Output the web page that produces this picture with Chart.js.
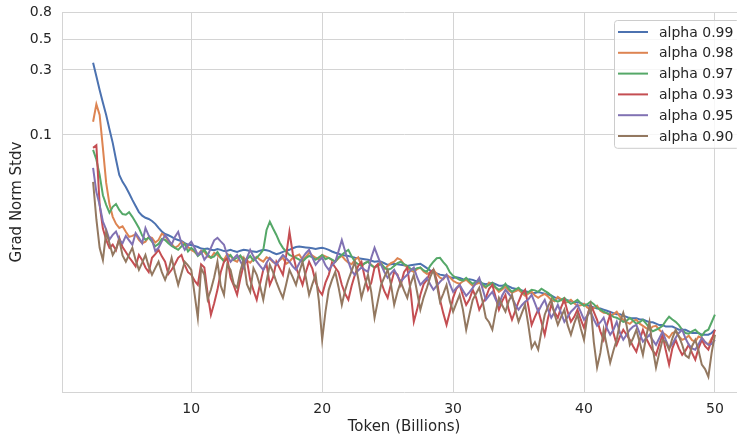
<!DOCTYPE html>
<html>
<head>
<meta charset="utf-8">
<script src="https://cdn.jsdelivr.net/npm/chart.js@4.4.1/dist/chart.umd.min.js"></script>
<style>
  html, body { margin: 0; padding: 0; background: #ffffff; width: 737px; height: 437px; overflow: hidden; }
  canvas { display: block; }
</style>
</head>
<body>
<canvas id="c" width="760" height="437"></canvas>
<script>
// ---- data: token positions (billions) ----
const tokens = [2.5,3,3.5,4,4.5,5,5.5,6,6.5,7,7.5,8,8.5,9,9.5,10,
  10.5,11,11.5,12,12.5,13,13.5,14,14.5,15,
  15.5,16,16.5,17,17.5,18,18.5,19,19.5,20,
  20.5,21,21.5,22,22.5,23,23.5,24,24.5,25,
  25.5,26,26.5,27,27.5,28,28.5,29,29.5,30,
  30.5,31,31.5,32,32.5,33,33.5,34,34.5,35,
  35.5,36,36.5,37,37.5,38,38.5,39,39.5,40,
  40.5,41,41.5,42,42.5,43,43.5,44,44.5,45,
  45.5,46,46.5,47,47.5,48,48.5,49,49.5,50];
const tokensMid = [2.75,3.25,3.75,4.25,4.75,5.25,5.75,6.25,6.75,7.25,7.75,8.25,8.75,9.25,9.75,
  10.25,10.75,11.25,11.75,12.25,12.75,13.25,13.75,14.25,14.75,
  15.25,15.75,16.25,16.75,17.25,17.75,18.25,18.75,19.25,19.75,
  20.25,20.75,21.25,21.75,22.25,22.75,23.25,23.75,24.25,24.75,
  25.25,25.75,26.25,26.75,27.25,27.75,28.25,28.75,29.25,29.75,
  30.25,30.75,31.25,31.75,32.25,32.75,33.25,33.75,34.25,34.75,
  35.25,35.75,36.25,36.75,37.25,37.75,38.25,38.75,39.25,39.75,
  40.25,40.75,41.25,41.75,42.25,42.75,43.25,43.75,44.25,44.75,
  45.25,45.75,46.25,46.75,47.25,47.75,48.25,48.75,49.25,49.75];

// ---- alpha 0.99 ----
const alpha099 = [0.339,0.214,0.140,0.0874,0.0508,0.0414,0.0333,0.0271,0.0246,0.0233,0.0207,0.0187,0.0178,0.0169,0.0160,0.0155,
  0.0150,0.0145,0.0143,0.0145,0.0140,0.0143,0.0138,0.0143,0.0140,0.0138,
  0.0143,0.0140,0.0133,0.0138,0.0143,0.0150,0.0150,0.0148,0.0145,0.0148,
  0.0143,0.0136,0.0131,0.0129,0.0125,0.0123,0.0121,0.0117,0.0117,0.0111,
  0.0113,0.0111,0.0109,0.0111,0.0113,0.0105,0.0098,0.0094,0.0092,0.0089,
  0.0089,0.0086,0.0086,0.0082,0.0080,0.0082,0.0078,0.0079,0.0075,0.0073,
  0.0071,0.0069,0.0070,0.0068,0.0066,0.0063,0.0061,0.0060,0.0059,0.0057,
  0.0055,0.0053,0.0052,0.0050,0.0048,0.0047,0.0045,0.0045,0.0044,0.0042,
  0.0041,0.0040,0.0039,0.0038,0.0037,0.0036,0.0035,0.0034,0.0034,0.0037];
const alpha099Mid = [0.27,0.172,0.110,0.066,0.0452,0.0372,0.0300,0.0255,0.0241,0.0222,0.0195,0.0183,0.0172,0.0166,0.0156,
  0.0153,0.0146,0.0146,0.0142,0.0143,0.0141,0.0140,0.0141,0.0142,0.0139,
  0.0141,0.0142,0.0136,0.0135,0.0141,0.0147,0.0151,0.0149,0.0147,0.0147,
  0.0146,0.0139,0.0134,0.0130,0.0127,0.0124,0.0122,0.0119,0.0118,0.0114,
  0.0112,0.0112,0.0110,0.0110,0.0112,0.0109,0.0101,0.0096,0.0093,0.0090,
  0.0090,0.0087,0.0087,0.0084,0.0081,0.0081,0.0080,0.0078,0.0077,0.0074,
  0.0072,0.0070,0.0069,0.0069,0.0067,0.0064,0.0062,0.0061,0.0059,0.0058,
  0.0056,0.0054,0.0053,0.0051,0.0049,0.0048,0.0046,0.0045,0.0044,0.0043,
  0.0042,0.0040,0.0039,0.0039,0.0037,0.0037,0.0035,0.0035,0.0034,0.0035];

// ---- alpha 0.98 ----
const alpha098 = [0.125,0.140,0.0444,0.0250,0.0207,0.0194,0.0181,0.0169,0.0164,0.0175,0.0169,0.0181,0.0158,0.0153,0.0158,0.0143,
  0.0131,0.0138,0.0125,0.0131,0.0121,0.0129,0.0117,0.0125,0.0115,0.0127,
  0.0117,0.0123,0.0113,0.0125,0.0117,0.0129,0.0121,0.0136,0.0125,0.0131,
  0.0125,0.0117,0.0129,0.0115,0.0121,0.0109,0.0117,0.0106,0.0115,0.0109,
  0.0117,0.0121,0.0106,0.00986,0.0106,0.00953,0.0102,0.00891,0.00937,0.00847,
  0.00805,0.00861,0.00778,0.00818,0.00752,0.00791,0.00703,0.00765,0.00691,0.00727,
  0.00657,0.00703,0.00635,0.00679,0.00614,0.00646,0.00584,0.00614,0.00555,0.00574,
  0.00519,0.00555,0.00493,0.00469,0.00502,0.00438,0.00409,0.00438,0.00395,0.00370,
  0.00395,0.00352,0.00323,0.00358,0.00312,0.00334,0.00302,0.00323,0.00287,0.00340];
const alpha098Mid = [0.168,0.080,0.031,0.0222,0.0213,0.0178,0.0186,0.0160,0.0178,0.0162,0.0188,0.0166,0.0148,0.0164,0.0150,
  0.0138,0.0141,0.0128,0.0136,0.0124,0.0133,0.0120,0.0128,0.0119,0.0122,
  0.0121,0.0126,0.0116,0.0120,0.0113,0.0125,0.0132,0.0127,0.0130,0.0122,
  0.0128,0.0120,0.0124,0.0121,0.0112,0.0126,0.0114,0.0111,0.0112,0.0103,
  0.0114,0.0124,0.0112,0.0101,0.0103,0.0099,0.0097,0.0095,0.0087,0.0090,
  0.0082,0.0084,0.0082,0.0080,0.0078,0.0082,0.0075,0.0073,0.0072,0.0071,
  0.0069,0.0068,0.0066,0.0066,0.0065,0.0060,0.0062,0.0059,0.0058,0.0056,
  0.0054,0.0053,0.0051,0.0049,0.0048,0.0046,0.0042,0.0043,0.0041,0.0038,
  0.0039,0.0037,0.0034,0.0035,0.0033,0.0032,0.0031,0.0033,0.0030,0.0032];

// ---- alpha 0.97 ----
const alpha097 = [0.0776,0.0508,0.0306,0.0296,0.0281,0.0259,0.0250,0.0207,0.0169,0.0164,0.0158,0.0169,0.0153,0.0143,0.0158,0.0148,
  0.0129,0.0143,0.0125,0.0138,0.0117,0.0131,0.0125,0.0117,0.0129,0.0125,
  0.0143,0.0230,0.0184,0.0148,0.0131,0.0125,0.0117,0.0129,0.0121,0.0131,
  0.0125,0.0117,0.0131,0.0143,0.0117,0.0109,0.0117,0.0106,0.0113,0.0102,
  0.0109,0.0117,0.0109,0.0102,0.0106,0.00986,0.0117,0.0125,0.0109,0.00921,
  0.00861,0.00891,0.00805,0.00861,0.00765,0.00818,0.00727,0.00805,0.00703,0.00752,
  0.00679,0.00727,0.00703,0.00715,0.00657,0.00594,0.00635,0.00574,0.00614,0.00555,
  0.00594,0.00536,0.00502,0.00477,0.00453,0.00423,0.00453,0.00409,0.00438,0.00382,
  0.00370,0.00395,0.00461,0.00423,0.00370,0.00346,0.00370,0.00334,0.00370,0.00477];
const alpha097Mid = [0.066,0.036,0.0268,0.0310,0.0262,0.0270,0.0228,0.0182,0.0176,0.0152,0.0172,0.0160,0.0148,0.0152,0.0139,
  0.0141,0.0135,0.0132,0.0128,0.0126,0.0124,0.0121,0.0130,0.0122,0.0119,
  0.0133,0.0200,0.0205,0.0162,0.0139,0.0128,0.0121,0.0124,0.0126,0.0126,
  0.0122,0.0121,0.0126,0.0138,0.0128,0.0112,0.0114,0.0110,0.0109,0.0106,
  0.0104,0.0114,0.0112,0.0104,0.0105,0.0101,0.0109,0.0124,0.0116,0.0098,
  0.0089,0.0085,0.0084,0.0083,0.0080,0.0079,0.0076,0.0075,0.0074,0.0073,
  0.0071,0.0070,0.0072,0.0074,0.0069,0.0061,0.0061,0.0060,0.0059,0.0058,
  0.0057,0.0057,0.0052,0.0049,0.0046,0.0044,0.0043,0.0043,0.0042,0.0041,
  0.0036,0.0038,0.0043,0.0044,0.0040,0.0035,0.0036,0.0035,0.0036,0.0042];

// ---- alpha 0.93 ----
const alpha093 = [0.0803,0.0306,0.0169,0.0156,0.0175,0.0138,0.0117,0.0131,0.0106,0.0125,0.0143,0.0117,0.0102,0.0125,0.0111,0.00937,
  0.00791,0.0106,0.00477,0.00727,0.0117,0.00891,0.00668,0.0111,0.00861,0.00614,
  0.0102,0.00791,0.0117,0.00937,0.0194,0.0106,0.00791,0.0117,0.00832,0.00668,
  0.00937,0.0106,0.00791,0.00614,0.00937,0.0117,0.00727,0.0106,0.00832,0.00635,
  0.00986,0.00791,0.0106,0.00423,0.00668,0.00861,0.0102,0.00614,0.00402,0.00635,
  0.00791,0.00564,0.00727,0.00519,0.00635,0.00791,0.00519,0.00668,0.00438,0.00594,
  0.00727,0.00402,0.00519,0.00340,0.00564,0.00453,0.00614,0.00423,0.00519,0.00382,
  0.00564,0.00438,0.00312,0.00477,0.00287,0.00370,0.00312,0.00255,0.00370,0.00287,
  0.00242,0.00340,0.00205,0.00312,0.00242,0.00287,0.00223,0.00312,0.00264,0.00370];
const alpha093Mid = [0.084,0.0205,0.0148,0.0142,0.0150,0.0126,0.0108,0.0120,0.0098,0.0133,0.0128,0.0095,0.0112,0.0131,0.0098,
  0.0085,0.0112,0.0068,0.0058,0.0098,0.0125,0.0078,0.0088,0.0120,0.0072,
  0.0080,0.0112,0.0090,0.0105,0.0130,0.0135,0.0092,0.0098,0.0104,0.0072,
  0.0082,0.0115,0.0098,0.0068,0.0078,0.0109,0.0090,0.0082,0.0112,0.0071,
  0.0080,0.0094,0.0098,0.0072,0.0052,0.0080,0.0098,0.0086,0.0049,0.0050,
  0.0074,0.0066,0.0062,0.0064,0.0058,0.0074,0.0064,0.0060,0.0052,0.0051,
  0.0068,0.0055,0.0046,0.0042,0.0045,0.0050,0.0054,0.0050,0.0046,0.0044,
  0.0047,0.0050,0.0036,0.0040,0.0035,0.0033,0.0034,0.0028,0.0031,0.0032,
  0.0026,0.0029,0.0026,0.0027,0.0027,0.0026,0.0025,0.0027,0.0028,0.0031];

// ---- alpha 0.95 ----
const alpha095 = [0.0572,0.0306,0.0201,0.0184,0.0169,0.0181,0.0156,0.0175,0.0207,0.0169,0.0148,0.0184,0.0156,0.0194,0.0143,0.0164,
  0.0131,0.0121,0.0148,0.0175,0.0156,0.0117,0.0131,0.0106,0.0143,0.0117,
  0.0102,0.0125,0.0111,0.0131,0.0117,0.0102,0.0125,0.0143,0.0111,0.0125,
  0.0102,0.0117,0.0169,0.0117,0.00937,0.0106,0.00986,0.0148,0.0111,0.00891,
  0.0102,0.00832,0.00937,0.0106,0.00791,0.00891,0.00727,0.00832,0.00937,0.00703,
  0.00791,0.00657,0.00752,0.00891,0.00614,0.00703,0.00564,0.00727,0.00635,0.00519,
  0.00594,0.00668,0.00502,0.00614,0.00453,0.00564,0.00423,0.00502,0.00564,0.00438,
  0.00502,0.00395,0.00453,0.00340,0.00423,0.00312,0.00370,0.00402,0.00302,0.00340,
  0.00287,0.00358,0.00272,0.00323,0.00370,0.00287,0.00264,0.00323,0.00287,0.00312];
const alpha095Mid = [0.038,0.0230,0.0170,0.0195,0.0160,0.0168,0.0190,0.0160,0.0182,0.0140,0.0165,0.0170,0.0178,0.0160,0.0155,
  0.0148,0.0139,0.0130,0.0168,0.0165,0.0130,0.0124,0.0118,0.0125,0.0128,
  0.0109,0.0115,0.0118,0.0122,0.0124,0.0108,0.0114,0.0135,0.0126,0.0119,
  0.0110,0.0110,0.0140,0.0140,0.0100,0.0101,0.0102,0.0125,0.0128,0.0098,
  0.0096,0.0092,0.0089,0.0101,0.0090,0.0084,0.0080,0.0078,0.0088,0.0080,
  0.0075,0.0072,0.0070,0.0082,0.0074,0.0066,0.0062,0.0066,0.0068,0.0057,
  0.0056,0.0062,0.0058,0.0056,0.0052,0.0050,0.0049,0.0046,0.0053,0.0050,
  0.0047,0.0044,0.0042,0.0038,0.0037,0.0035,0.0034,0.0039,0.0035,0.0032,
  0.0031,0.0032,0.0031,0.0029,0.0035,0.0032,0.0027,0.0029,0.0030,0.0029];

// ---- alpha 0.90 ----
const alpha090 = [0.0452,0.0148,0.0194,0.0131,0.0169,0.0117,0.0148,0.0102,0.0131,0.00937,0.0117,0.00861,0.0125,0.00791,0.0117,0.0102,
  0.00453,0.00937,0.00727,0.0117,0.00668,0.0102,0.00752,0.0121,0.00703,0.00937,
  0.00614,0.0111,0.00832,0.00635,0.0102,0.00791,0.0117,0.00668,0.00937,0.00312,
  0.00727,0.00986,0.00564,0.00861,0.0117,0.00635,0.00937,0.00453,0.00791,0.0102,
  0.00564,0.00832,0.00635,0.00937,0.00519,0.00752,0.0102,0.00594,0.00791,0.00502,
  0.00668,0.00370,0.00614,0.00752,0.00453,0.00370,0.00635,0.00502,0.00668,0.00423,
  0.00564,0.00272,0.00264,0.00477,0.00614,0.00402,0.00519,0.00340,0.00477,0.00312,
  0.00564,0.00195,0.00370,0.00212,0.00312,0.00493,0.00287,0.00370,0.00242,0.00423,
  0.00195,0.00312,0.00264,0.00370,0.00287,0.00230,0.00312,0.00205,0.00167,0.00340];
const alpha090Mid = [0.024,0.0120,0.0160,0.0145,0.0130,0.0132,0.0120,0.0115,0.0108,0.0105,0.0098,0.0100,0.0098,0.0096,0.0110,
  0.0068,0.0105,0.0062,0.0090,0.0078,0.0112,0.0080,0.0100,0.0080,0.0105,
  0.0078,0.0084,0.0098,0.0072,0.0080,0.0090,0.0098,0.0090,0.0080,0.0060,
  0.0050,0.0086,0.0076,0.0072,0.0100,0.0088,0.0078,0.0070,0.0060,0.0090,
  0.0080,0.0070,0.0072,0.0080,0.0070,0.0064,0.0090,0.0080,0.0068,0.0060,
  0.0058,0.0052,0.0048,0.0068,0.0060,0.0042,0.0050,0.0056,0.0060,0.0052,
  0.0049,0.0040,0.0030,0.0036,0.0055,0.0048,0.0046,0.0040,0.0041,0.0038,
  0.0046,0.0030,0.0025,0.0028,0.0026,0.0042,0.0040,0.0032,0.0030,0.0033,
  0.0027,0.0025,0.0030,0.0032,0.0033,0.0024,0.0028,0.0026,0.0019,0.0025];

const seriesLabels = ['alpha 0.99','alpha 0.98','alpha 0.97','alpha 0.93','alpha 0.95','alpha 0.90'];
const seriesValues = [alpha099, alpha098, alpha097, alpha093, alpha095, alpha090];
const seriesMidValues = [alpha099Mid, alpha098Mid, alpha097Mid, alpha093Mid, alpha095Mid, alpha090Mid];
const xTicks = [10, 20, 30, 40, 50];
const yTicks = [0.1, 0.3, 0.5, 0.8];
const xTitle = 'Token (Billions)';
const yTitle = 'Grad Norm Stdv';

// ---- style ----
const colors = ['#4C72B0','#DD8452','#55A868','#C44E52','#8172B3','#937860'];
const FONT = "'DejaVu Sans', sans-serif";
const FS = 14;
const FS_TITLE = 15;
const textColor = '#262626';
const gridColor = '#d4d4d4';

function buildPoints(vals, mids) {
  const pts = [];
  for (let j = 0; j < tokens.length; j++) {
    pts.push({ x: tokens[j], y: vals[j] });
    if (j < tokensMid.length) pts.push({ x: tokensMid[j], y: mids[j] });
  }
  return pts;
}

const datasets = seriesValues.map((vals, i) => ({
  label: seriesLabels[i],
  data: buildPoints(vals, seriesMidValues[i]),
  borderColor: colors[i],
  backgroundColor: colors[i],
  borderWidth: 2,
  pointRadius: 0,
  tension: 0,
  fill: false,
  order: seriesValues.length - i
}));

const legendInside = {
  id: 'legendInside',
  afterDraw(chart) {
    const ctx = chart.ctx;
    const area = chart.chartArea;
    const w = 125, rowH = 20.8;
    const h = rowH * seriesLabels.length + 3;
    const x0 = area.right - 7 - w;
    const y0 = area.top + 8;
    ctx.save();
    ctx.beginPath();
    if (ctx.roundRect) ctx.roundRect(x0 + 0.5, y0 + 0.5, w, h, 3); else ctx.rect(x0 + 0.5, y0 + 0.5, w, h);
    ctx.fillStyle = 'rgba(255,255,255,0.8)';
    ctx.fill();
    ctx.strokeStyle = '#cccccc';
    ctx.lineWidth = 1;
    ctx.stroke();
    ctx.font = FS + 'px ' + FONT;
    ctx.textBaseline = 'middle';
    ctx.textAlign = 'left';
    seriesLabels.forEach((lab, i) => {
      const cy = y0 + 12 + i * rowH;
      ctx.strokeStyle = colors[i];
      ctx.lineWidth = 2;
      ctx.beginPath();
      ctx.moveTo(x0 + 4, cy);
      ctx.lineTo(x0 + 34, cy);
      ctx.stroke();
      ctx.fillStyle = textColor;
      ctx.fillText(lab, x0 + 45, cy + 1);
    });
    ctx.restore();
  }
};

new Chart(document.getElementById('c').getContext('2d'), {
  type: 'line',
  data: { datasets },
  options: {
    responsive: false,
    animation: false,
    devicePixelRatio: 1,
    layout: { padding: { top: 12, right: 14, left: 0, bottom: 0 } },
    plugins: { legend: { display: false }, tooltip: { enabled: false } },
    scales: {
      x: {
        type: 'linear',
        min: 0.125,
        max: 52.375,
        afterBuildTicks: s => { s.ticks = xTicks.map(v => ({ value: v })); },
        afterFit: s => { s.height = 45; },
        grid: { color: gridColor, lineWidth: 1, drawTicks: false },
        border: { color: gridColor, width: 1 },
        ticks: { color: textColor, font: { family: FONT, size: FS }, padding: 9, maxRotation: 0, autoSkip: false },
        title: { display: true, text: xTitle, color: textColor, font: { family: FONT, size: FS_TITLE }, padding: { top: 0, bottom: 1 } }
      },
      y: {
        type: 'logarithmic',
        min: 0.00129,
        max: 0.8,
        afterBuildTicks: s => { s.ticks = yTicks.map(v => ({ value: v })); },
        afterFit: s => { s.width = 62; },
        grid: { color: gridColor, lineWidth: 1, drawTicks: false },
        border: { color: gridColor, width: 1 },
        ticks: { color: textColor, font: { family: FONT, size: FS, lineHeight: 0.2 }, padding: 10, autoSkip: false,
                 callback: v => String(v) },
        title: { display: true, text: yTitle, color: textColor, font: { family: FONT, size: FS_TITLE }, padding: { top: 8, bottom: 0 } }
      }
    }
  },
  plugins: [legendInside]
});
</script>
</body>
</html>
